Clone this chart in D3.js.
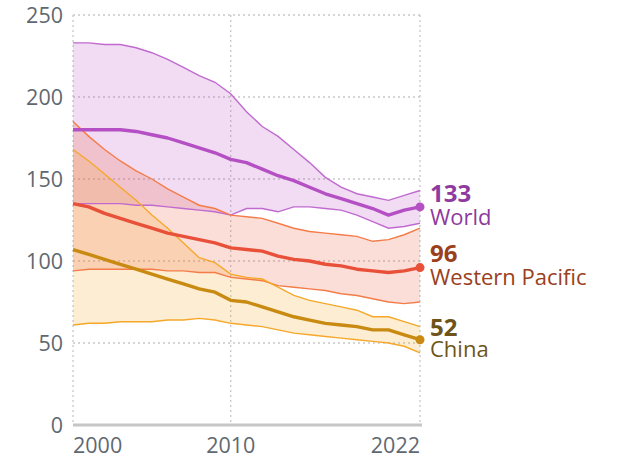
<!DOCTYPE html>
<html>
<head>
<meta charset="utf-8">
<script src="https://cdn.jsdelivr.net/npm/d3@7"></script>
<style>
  html, body { margin: 0; padding: 0; background: #fff; }
  svg { display: block; font-family: "Open Sans", "Noto Sans", sans-serif; }
</style>
</head>
<body>
<svg id="chart" width="635" height="459"></svg>
<script>
"use strict";

// --- data ---

const years = d3.range(2000, 2023)

const worldMid = [180, 180, 180, 180, 179, 177, 175, 172, 169, 166, 162, 160, 156, 152, 149, 145, 141, 138, 135, 132, 128, 131, 133]
const worldHi  = [233, 233, 232, 232, 230, 227, 223, 218, 213, 209, 202, 191, 182, 176, 168, 160, 151, 145, 141, 139, 137, 140, 143]
const worldLo  = [135, 135, 135, 135, 134, 134, 133, 132, 131, 130, 128, 132, 132, 130, 133, 133, 132, 131, 128, 124, 120, 121, 123]

const wpMid = [135, 133, 129, 126, 123, 120, 117, 115, 113, 111, 108, 107, 106, 103, 101, 100, 98, 97, 95, 94, 93, 94, 96]
const wpHi  = [185, 176, 168, 161, 155, 150, 144, 139, 134, 132, 128, 127, 126, 123, 120, 118, 117, 116, 115, 112, 113, 116, 120]
const wpLo  = [94, 95, 95, 95, 95, 95, 94, 94, 93, 93, 90, 89, 88, 85, 84, 83, 82, 80, 79, 77, 75, 74, 75]

const chinaMid = [107, 104, 101, 98, 95, 92, 89, 86, 83, 81, 76, 75, 72, 69, 66, 64, 62, 61, 60, 58, 58, 55, 52]
const chinaHi  = [168, 161, 153, 145, 137, 128, 120, 111, 102, 99, 92, 90, 89, 84, 79, 76, 74, 72, 70, 66, 66, 63, 60]
const chinaLo  = [61, 62, 62, 63, 63, 63, 64, 64, 65, 64, 62, 61, 60, 58, 56, 55, 54, 53, 52, 51, 50, 48, 44]

const yTicks = [0, 50, 100, 150, 200, 250]
const xTicks = [2000, 2010, 2022]

const series = [
    { name: "World", mid: worldMid, hi: worldHi, lo: worldLo,
      line: "#b450c4", edge: "#c06ad0", fill: "rgba(184,79,196,0.2)", text: "#8e3a9e", labelY: [202, 225] },
    { name: "Western Pacific", mid: wpMid, hi: wpHi, lo: wpLo,
      line: "#e8503a", edge: "#f47c48", fill: "rgba(240,90,60,0.2)", text: "#9a401c", labelY: [262, 285] },
    { name: "China", mid: chinaMid, hi: chinaHi, lo: chinaLo,
      line: "#c88a10", edge: "#f5a82a", fill: "rgba(245,166,35,0.2)", text: "#6e5418", labelY: [336, 357] }
]

// --- layout ---

const svg = d3.select("#chart")
const plotLeft = 73, plotRight = 420, plotTop = 15, plotBottom = 425

const x = d3.scaleLinear().domain([2000, 2022]).range([plotLeft, plotRight])
const y = d3.scaleLinear().domain([0, 250]).range([plotBottom, plotTop])

const gridColor = "#c8c8c8"
const tickColor = "#5f6870"

// grid
svg.append("g")
    .selectAll("line")
    .data(yTicks.filter(d => d > 0))
    .join("line")
    .attr("x1", plotLeft).attr("x2", plotRight)
    .attr("y1", d => y(d)).attr("y2", d => y(d))
    .attr("stroke", gridColor).attr("stroke-width", 1.3)
    .attr("stroke-dasharray", "2,3")

svg.append("g")
    .selectAll("line")
    .data(xTicks)
    .join("line")
    .attr("x1", d => x(d)).attr("x2", d => x(d))
    .attr("y1", y(250)).attr("y2", plotBottom)
    .attr("stroke", gridColor).attr("stroke-width", 1.3)
    .attr("stroke-dasharray", "2,3")

// bands, then edges and medians
const area = (hi, lo) => d3.area()
    .x((d, i) => x(years[i]))
    .y0((d, i) => y(lo[i]))
    .y1((d, i) => y(hi[i]))(years)

const line = vals => d3.line()
    .x((d, i) => x(years[i]))
    .y((d, i) => y(vals[i]))(years)

series.forEach(s => {
    svg.append("path").attr("d", area(s.hi, s.lo)).attr("fill", s.fill)
})

series.forEach(s => {
    [s.hi, s.lo].forEach(v => {
        svg.append("path").attr("d", line(v))
            .attr("fill", "none").attr("stroke", s.edge).attr("stroke-width", 1.4)
    })
})

series.forEach(s => {
    svg.append("path").attr("d", line(s.mid))
        .attr("fill", "none").attr("stroke", s.line).attr("stroke-width", 3.4)
        .attr("stroke-linejoin", "round")
    svg.append("circle")
        .attr("cx", x(2022)).attr("cy", y(s.mid[s.mid.length - 1]))
        .attr("r", 4.5).attr("fill", s.line)
})

// baseline
svg.append("line")
    .attr("x1", plotLeft).attr("x2", plotRight + 2)
    .attr("y1", plotBottom).attr("y2", plotBottom)
    .attr("stroke", "#c6c6c6").attr("stroke-width", 3)

// y axis labels
svg.append("g")
    .selectAll("text")
    .data(yTicks)
    .join("text")
    .attr("x", 63).attr("y", d => y(d) + 7.5)
    .attr("text-anchor", "end")
    .attr("font-size", 21.5).attr("fill", tickColor)
    .text(d => d)

// x axis labels
svg.append("g")
    .selectAll("text")
    .data(xTicks)
    .join("text")
    .attr("x", d => x(d))
    .attr("y", 453)
    .attr("text-anchor", (d, i) => i === 0 ? "start" : i === xTicks.length - 1 ? "end" : "middle")
    .attr("font-size", 21.5).attr("fill", tickColor)
    .text(d => d)

// end labels
series.forEach(s => {
    svg.append("text")
        .attr("x", 430).attr("y", s.labelY[0])
        .attr("font-size", 24).attr("font-weight", 700).attr("fill", s.text)
        .text(s.mid[s.mid.length - 1])
    svg.append("text")
        .attr("x", 430).attr("y", s.labelY[1])
        .attr("font-size", 22).attr("fill", s.text)
        .text(s.name)
})
</script>
</body>
</html>
